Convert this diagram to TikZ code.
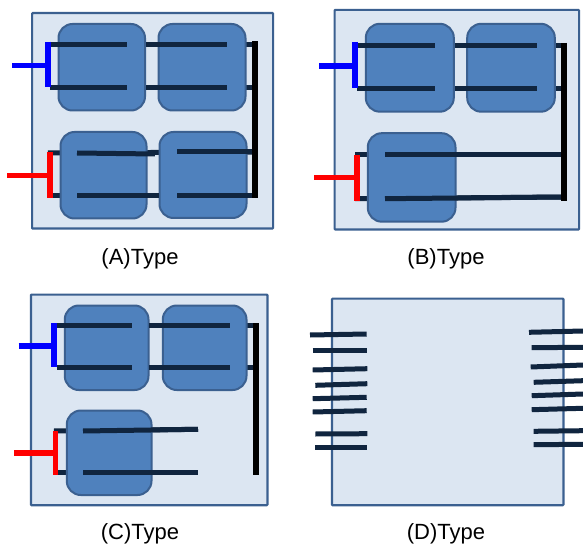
\documentclass[tikz,border=0pt]{standalone}
\usepackage{fontspec}
\setmainfont{Liberation Sans}
\usepackage{xcolor}
\usetikzlibrary{positioning}
\definecolor{panelfill}{HTML}{DCE6F2}
\definecolor{edgeblue}{HTML}{3B6090}
\definecolor{chipfill}{HTML}{4F81BD}
\definecolor{wirenavy}{HTML}{10253F}
\tikzset{
panel/.style = {draw=edgeblue, fill=panelfill, line width=2.2pt, rounded corners=0.8pt, anchor=north west, inner sep=0pt},
chip/.style = {draw=edgeblue, fill=chipfill, line width=2pt, rounded corners=14pt, anchor=north west, inner sep=0pt},
wire/.style = {draw=wirenavy, line width=5pt},
bus/.style = {draw=black, line width=6pt},
gate_b/.style = {draw=blue, line width=5.5pt},% blue input
gate_r/.style = {draw=red, line width=5.5pt},% red input
caption/.style = {font=\fontsize{22}{26}\selectfont, inner sep=0pt}
}
\begin{document}
\begin{tikzpicture}[x=1pt,y=-1pt]
	\useasboundingbox (0,0) rectangle (583,545);
	% panels
	\node [panel, minimum width=241pt, minimum height=215.5pt] (panel_a) at (31,12) {};
	\node [panel, minimum width=244.5pt, minimum height=219.7pt] (panel_b) at (333.5,8.8) {};
	\node [panel, minimum width=236.5pt, minimum height=210.7pt] (panel_c) at (29.8,293.5) {};
	\node [panel, minimum width=231.5pt, minimum height=206.7pt] (panel_d) at (330.8,297.5) {};
	% end points
	\foreach \n/\x/\y in {a1/50/44.4, a2/127/44.4, a3/146/44.4, a4/227/44.4, a5/256/44.4,
		a6/50/88, a7/127/88, a8/146/88, a9/227/88, a10/256/88,
		a11/48/153, a12/155/154, a13/254/152, a14/77/153, a15/177/152,
		a16/48/195.7, a17/159/195.7, a18/254/195.7, a19/77/195.7, a20/177/195.7,
		a21/255/41.5, a22/255/198,
		a23/12/65.5, a24/48/41.7, a25/48/87.5, a26/7/175.5, a27/50/152.5, a28/50/198}
		\coordinate (\n) at (\x,\y);
	\foreach \n/\x/\y in {b1/357/45.3, b2/435/45.3, b3/455/45.3, b4/537/45.3, b5/566/45.3,
		b6/357/88.7, b7/435/88.7, b8/455/88.7, b9/537/88.7, b10/566/88.7,
		b11/355/155, b12/563/155, b13/385/155,
		b14/355/198.7, b15/563/197, b16/385/198.7,
		b17/563.7/43, b18/563.7/200.7,
		b19/319/66, b20/355/42, b21/355/88.5, b22/314/177.3, b23/357/155, b24/357/201}
		\coordinate (\n) at (\x,\y);
	\foreach \n/\x/\y in {c1/57/325, c2/132/325, c3/149/325, c4/230/325, c5/257/325,
		c6/57/367.3, c7/132/367.3, c8/149/367.3, c9/230/367.3, c10/257/367.3,
		c11/54/431, c12/83/431, c13/198/429.3,
		c14/54/472.7, c15/83/472.7, c16/198/472.7,
		c17/256/323, c18/256/475,
		c19/18.7/346, c20/54/323, c21/54/367, c22/14/453, c23/55.7/431, c24/55.7/475}
		\coordinate (\n) at (\x,\y);
	% wires behind the chips
	\draw [wire] (a1) -- (a5);
	\draw [wire] (a6) -- (a10);
	\draw [wire] (a11) -- (a13);
	\draw [wire] (a16) -- (a18);
	\draw [wire] (b1) -- (b5);
	\draw [wire] (b6) -- (b10);
	\draw [wire] (b11) -- (b12);
	\draw [wire] (b14) -- (b15);
	\draw [wire] (c1) -- (c5);
	\draw [wire] (c6) -- (c10);
	\draw [wire] (c11) -- (c13);
	\draw [wire] (c14) -- (c16);
	% chips
	\node [chip, minimum width=86.5pt, minimum height=86.5pt] (chip_a1) at (57.5,23) {};
	\node [chip, minimum width=87pt, minimum height=86.5pt] (chip_a2) at (157.5,23) {};
	\node [chip, minimum width=86pt, minimum height=86.5pt] (chip_a3) at (59.5,131) {};
	\node [chip, minimum width=87pt, minimum height=86pt] (chip_a4) at (158.5,131) {};
	\node [chip, minimum width=88pt, minimum height=87.9pt] (chip_b1) at (364.8,22.8) {};
	\node [chip, minimum width=87.6pt, minimum height=87.9pt] (chip_b2) at (466.2,22.8) {};
	\node [chip, minimum width=87.7pt, minimum height=88.5pt] (chip_b3) at (366.8,132.2) {};
	\node [chip, minimum width=83.7pt, minimum height=84.5pt] (chip_c1) at (63.8,304.5) {};
	\node [chip, minimum width=83.7pt, minimum height=84.5pt] (chip_c2) at (161.8,304.5) {};
	\node [chip, minimum width=84.7pt, minimum height=84.5pt] (chip_c3) at (65.8,409.5) {};
	% wires on the chips
	\draw [wire] (a1) -- (a2);
	\draw [wire] (a3) -- (a4);
	\draw [wire] (a6) -- (a7);
	\draw [wire] (a8) -- (a9);
	\draw [wire] (a14) -- (a12);
	\draw [wire] (a15) -- (a13);
	\draw [wire] (a19) -- (a17);
	\draw [wire] (a20) -- (a18);
	\draw [wire] (b1) -- (b2);
	\draw [wire] (b3) -- (b4);
	\draw [wire] (b6) -- (b7);
	\draw [wire] (b8) -- (b9);
	\draw [wire] (b13) -- (b12);
	\draw [wire] (b16) -- (b15);
	\draw [wire] (c1) -- (c2);
	\draw [wire] (c3) -- (c4);
	\draw [wire] (c6) -- (c7);
	\draw [wire] (c8) -- (c9);
	\draw [wire] (c12) -- (c13);
	\draw [wire] (c15) -- (c16);
	% buses and inputs
	\draw [bus] (a21) -- (a22);
	\draw [bus] (b17) -- (b18);
	\draw [bus] (c17) -- (c18);
	\draw [gate_b] (a24) -- (a25);
	\draw [gate_b] (a23) -- (a23 -| a24);
	\draw [gate_r] (a27) -- (a28);
	\draw [gate_r] (a26) -- (a26 -| a27);
	\draw [gate_b] (b20) -- (b21);
	\draw [gate_b] (b19) -- (b19 -| b20);
	\draw [gate_r] (b23) -- (b24);
	\draw [gate_r] (b22) -- (b22 -| b23);
	\draw [gate_b] (c20) -- (c21);
	\draw [gate_b] (c19) -- (c19 -| c20);
	\draw [gate_r] (c23) -- (c24);
	\draw [gate_r] (c22) -- (c22 -| c23);
	% leads of the bare package
	\foreach \i/\xa/\ya/\xb/\yb in {1/310/335/366.7/334, 2/312.7/350.3/366.7/350.3,
		3/312.7/370/367.3/368.7, 4/315.3/385.3/367.3/383.7,
		5/312.7/398.7/366.7/397.3, 6/312.7/412/366.7/410.7,
		7/315.3/434/367.3/433.7, 8/315.3/447.3/367.3/447.3,
		9/529/332.3/583/331, 10/531.7/347.7/583/347.3,
		11/530.7/367/583/365, 12/533.7/382.3/583/380.7,
		13/531.7/395.7/583/394, 14/531.7/409.7/583/408.3,
		15/533.7/431.3/583/430.7, 16/533.7/444.7/583/444.3}{
		\coordinate (d\i s) at (\xa,\ya);
		\coordinate (d\i e) at (\xb,\yb);
		\draw [wire] (d\i s) -- (d\i e);
	}
	% captions
	\node [caption] (label_a) at (140,258.5) {(A)Type};
	\node [caption] (label_b) at (446,258.5) {(B)Type};
	\node [caption] (label_c) at (140,534) {(C)Type};
	\node [caption] (label_d) at (446,534) {(D)Type};
\end{tikzpicture}
\end{document}
